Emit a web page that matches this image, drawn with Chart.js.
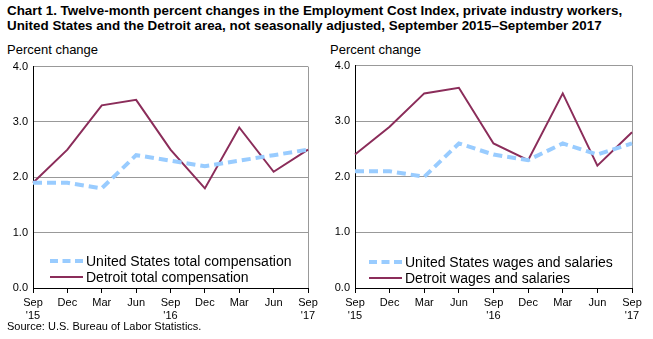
<!DOCTYPE html>
<html>
<head>
<meta charset="utf-8">
<script src="https://cdn.jsdelivr.net/npm/chart.js@4"></script>
<style>
  body{margin:0;background:#fff;font-family:"Liberation Sans",Arial,sans-serif;}
  #wrap{position:relative;width:653px;height:339px;overflow:hidden;}
  .title{position:absolute;left:7px;top:3px;font-family:"Liberation Sans Narrow","Liberation Sans",Arial,sans-serif;font-weight:bold;font-size:13.4px;line-height:15px;color:#000;}
  .ylab{position:absolute;top:42px;font-size:13px;color:#000;}
  .cv{position:absolute;width:330px;height:280px;}
  .src{position:absolute;left:7px;top:320px;font-size:11px;color:#000;}
  .leg{position:absolute;font-size:14px;line-height:16px;color:#000;}
  .leg div{display:flex;align-items:center;height:16px;}
  .leg span.s{display:inline-block;width:33px;margin-right:3px;}
</style>
</head>
<body>
<div id="wrap">
  <div class="title">Chart 1. Twelve-month percent changes in the Employment Cost Index, private industry workers,<br>United States and the Detroit area, not seasonally adjusted, September 2015–September 2017</div>
  <div class="ylab" style="left:7px">Percent change</div>
  <div class="ylab" style="left:330px">Percent change</div>
  <div class="cv" style="left:0;top:55px"><canvas id="c1"></canvas></div>
  <div class="cv" style="left:322px;top:54px"><canvas id="c2"></canvas></div>
  <div class="leg" style="left:50px;top:253px">
    <div><span class="s" style="border-top:4px dashed #99ccff"></span>United States total compensation</div>
    <div><span class="s" style="border-top:2px solid #8b2d5a"></span>Detroit total compensation</div>
  </div>
  <div class="leg" style="left:369px;top:254px">
    <div><span class="s" style="border-top:4px dashed #99ccff"></span>United States wages and salaries</div>
    <div><span class="s" style="border-top:2px solid #8b2d5a"></span>Detroit wages and salaries</div>
  </div>
  <div class="src">Source: U.S. Bureau of Labor Statistics.</div>
</div>
<script>
const months = [["Sep","'15"],"Dec","Mar","Jun",["Sep","'16"],"Dec","Mar","Jun",["Sep","'17"]];
const usTotalComp = [1.9,1.9,1.8,2.4,2.3,2.2,2.3,2.4,2.5];
const detroitTotalComp = [1.9,2.5,3.3,3.4,2.5,1.8,2.9,2.1,2.5];
const usWages = [2.1,2.1,2.0,2.6,2.4,2.3,2.6,2.4,2.6];
const detroitWages = [2.4,2.9,3.5,3.6,2.6,2.3,3.5,2.2,2.8];
const yTicks = [0,1,2,3,4];

Chart.defaults.font.family = '"Liberation Sans", Arial, sans-serif';
Chart.defaults.color = '#000';

function makeChart(id, usData, detData, usLabel, detLabel, padRight, xHeight){
  new Chart(document.getElementById(id), {
    type:'line',
    data:{
      labels: months,
      datasets:[
        { label: usLabel, data: usData, borderColor:'#99ccff', borderWidth:4, borderDash:[9,5], pointRadius:0, tension:0, fill:false },
        { label: detLabel, data: detData, borderColor:'#8b2d5a', borderWidth:2, pointRadius:0, tension:0, fill:false }
      ]
    },
    options:{
      responsive:true, maintainAspectRatio:false, animation:false,
      layout:{ padding:{ top:4, right:padRight, bottom:8, left:0 } },
      plugins:{ legend:{display:false}, tooltip:{enabled:false} },
      scales:{
        x:{
          type:'category', offset:false,
          border:{ color:'#000', width:1 },
          grid:{
            drawOnChartArea:true, drawTicks:true, tickLength:5,
            color: c => c.index === months.length-1 ? '#999' : 'rgba(0,0,0,0)',
            tickColor:'#000'
          },
          ticks:{ font:{size:11}, maxRotation:0, autoSkip:false, padding:3 },
          afterFit: s => { s.height = xHeight; }
        },
        y:{
          min:0, max:4,
          border:{ color:'#000', width:1 },
          grid:{ color:'#999', drawTicks:false },
          afterBuildTicks: s => { s.ticks = yTicks.map(v => ({value:v})); },
          ticks:{ font:{size:11}, padding:5, callback: v => v.toFixed(1) },
          afterFit: s => { s.width = 33; }
        }
      }
    }
  });
}

makeChart('c1', usTotalComp, detroitTotalComp, 'United States total compensation', 'Detroit total compensation', 22, 39);
makeChart('c2', usWages, detroitWages, 'United States wages and salaries', 'Detroit wages and salaries', 20, 38);
</script>
</body>
</html>
